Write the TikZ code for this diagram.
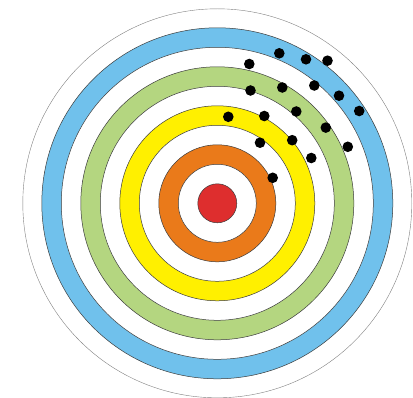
\documentclass[tikz,border=0pt]{standalone}
\definecolor{ringblue}{RGB}{112,193,236}
\definecolor{ringgreen}{RGB}{180,214,128}
\definecolor{ringyellow}{RGB}{255,240,0}
\definecolor{ringorange}{RGB}{234,122,26}
\definecolor{ringred}{RGB}{222,46,46}
\definecolor{ringline}{RGB}{60,60,60}
\begin{document}
\begin{tikzpicture}[x=1pt,y=-1pt,
  ring/.style={draw=ringline,line width=0.5pt},
  hole/.style={fill=black}]
\useasboundingbox (0,0) rectangle (413,398);
\coordinate (c) at (217.3,203.3);
\filldraw[white,draw=gray,line width=0.4pt] (c) circle (194.5);
\filldraw[ring,fill=ringblue] (c) circle (175.5);
\filldraw[ring,fill=white] (c) circle (156);
\filldraw[ring,fill=ringgreen] (c) circle (136.5);
\filldraw[ring,fill=white] (c) circle (117);
\filldraw[ring,fill=ringyellow] (c) circle (97.5);
\filldraw[ring,fill=white] (c) circle (78);
\filldraw[ring,fill=ringorange] (c) circle (58.5);
\filldraw[ring,fill=white] (c) circle (39);
\filldraw[ring,fill=ringred] (c) circle (19.5);
\foreach \x/\y in {279.3/53.3, 306/59.3, 327.5/60.7, 249.3/64,
  250.5/90.5, 282.3/87.5, 314.3/85.5, 339/95.7, 359.2/111,
  228.3/116.8, 264.3/116, 296.3/111.5, 325.8/127.6, 347.8/146.8,
  260/142.7, 292.2/140.2, 311.3/158, 272.7/177.8}
  \fill[hole] (\x,\y) circle (5.3);
\end{tikzpicture}
\end{document}
